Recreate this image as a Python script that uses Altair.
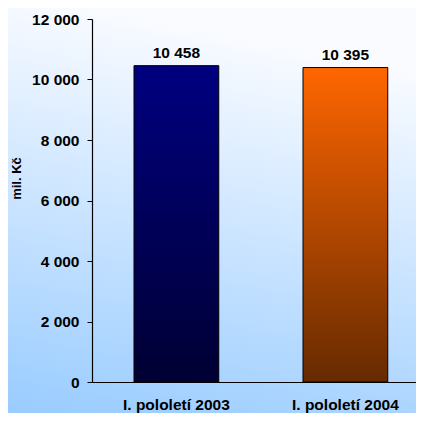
import altair as alt
import pandas as pd

periods = ["I. pololetí 2003", "I. pololetí 2004"]
values = [10458, 10395]
y_ticks = [0, 2000, 4000, 6000, 8000, 10000, 12000]
y_title = "mil. Kč"

df = pd.DataFrame({"period": periods, "value": values})
bg_df = pd.DataFrame({"a": [0]})

FONT = "Liberation Sans"
FS = 15.5
fmt_expr = "replace(format(datum.value, ','), ',', ' ')"

bg_grad = {"gradient": "linear", "x1": 0.2, "y1": 0, "x2": 0, "y2": 1,
           "stops": [{"offset": 0, "color": "#f9fbff"},
                     {"offset": 1, "color": "#99ccff"}]}
blue_grad = {"gradient": "linear", "x1": 0, "y1": 0, "x2": 0, "y2": 1,
             "stops": [{"offset": 0, "color": "#000080"},
                       {"offset": 1, "color": "#000033"}]}
orange_grad = {"gradient": "linear", "x1": 0, "y1": 0, "x2": 0, "y2": 1,
               "stops": [{"offset": 0, "color": "#ff6600"},
                         {"offset": 1, "color": "#662a00"}]}

x_enc = alt.X("period:N", sort=periods,
              scale=alt.Scale(paddingInner=0.4985, paddingOuter=0.2078, align=0.598),
              axis=alt.Axis(title=None, labelAngle=0, ticks=False, tickSize=0,
                            labelPadding=15, labelFont=FONT, labelFontSize=FS,
                            labelFontWeight="bold", labelColor="black",
                            domainColor="black", domainWidth=1.2, zindex=1))
y_enc = alt.Y("value:Q", scale=alt.Scale(domain=[0, 12000], nice=False),
              axis=alt.Axis(values=y_ticks, labelExpr=fmt_expr, grid=False,
                            title=y_title, titleFont=FONT, titleFontSize=13,
                            titleFontWeight="bold", titleColor="black",
                            titleAngle=-90, titleX=-76, titleY=159,
                            titleAlign="center", titleBaseline="middle",
                            labelFont=FONT, labelFontSize=FS, labelFontWeight="bold",
                            labelColor="black", labelPadding=8,
                            tickSize=5, tickColor="black", domainColor="black",
                            domainWidth=1.2, zindex=1))

bg = alt.Chart(bg_df).mark_rect(color=bg_grad).encode(
    x=alt.value(-84), x2=alt.value(324), y=alt.value(-11), y2=alt.value(394))

base = alt.Chart(df)
bar1 = base.transform_filter(alt.datum.period == periods[0]).mark_bar(
    color=blue_grad, stroke="black", strokeWidth=1).encode(x=x_enc, y=y_enc)
bar2 = base.transform_filter(alt.datum.period == periods[1]).mark_bar(
    color=orange_grad, stroke="black", strokeWidth=1).encode(x=x_enc, y=y_enc)
labels = base.transform_calculate(lbl=fmt_expr).mark_text(
    font=FONT, fontSize=FS, fontWeight="bold", color="black",
    baseline="alphabetic", dy=-8).encode(x=x_enc, y=y_enc, text="lbl:N")

chart = alt.layer(bg, bar1, bar2, labels).properties(
    width=324, height=363,
    autosize=alt.AutoSizeParams(type="none"),
    padding={"left": 84, "top": 11, "right": 0, "bottom": 31},
).configure_view(stroke=None)

chart.save("out.html", embed_options={"renderer": "svg", "actions": False})
